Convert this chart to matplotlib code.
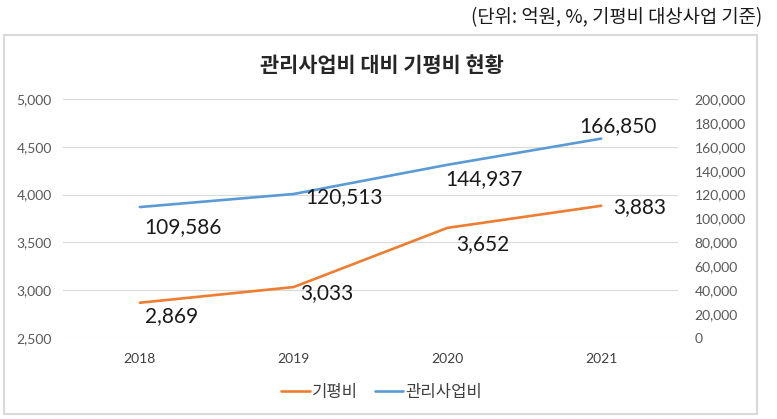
import matplotlib
matplotlib.use('Agg')
import matplotlib.pyplot as plt
from matplotlib.patches import Rectangle

plt.rcParams['font.family'] = ['Noto Sans CJK KR', 'DejaVu Sans']

years = ['2018', '2019', '2020', '2021']
gipyeong = [2869, 3033, 3652, 3883]          # 기평비 (left axis)
gwanri = [109586, 120513, 144937, 166850]    # 관리사업비 (right axis)

orange = '#ED7D31'
blue = '#5B9BD5'
grid_c = '#d9d9d9'
tick_c = '#595959'

# label offsets in pixels (dx, dy)
off_or = [(32, -13), (33, -6), (35, -16), (39, -1)]
off_bl = [(43, -20), (50, -3), (37, -14), (17, 13)]

fig = plt.figure(figsize=(7.77, 4.19), dpi=100)
ax = fig.add_axes([0.0811, 0.1933, 0.7915, 0.5704])
ax2 = ax.twinx()

x = list(range(len(years)))
l1, = ax.plot(x, gipyeong, color=orange, lw=1.9, solid_capstyle='round')
l2, = ax2.plot(x, gwanri, color=blue, lw=1.9, solid_capstyle='round')

ax.set_xlim(-0.5, len(years) - 0.5)
ax.set_ylim(2500, 5000)
ax.set_yticks(range(2500, 5001, 500))
ax2.set_ylim(0, 200000)
ax2.set_yticks(range(0, 200001, 20000))
ax.set_xticks(x)
ax.set_xticklabels(years)

ax.yaxis.grid(True, color=grid_c, lw=0.8)
ax.set_axisbelow(True)
for a in (ax, ax2):
    for s in a.spines.values():
        s.set_visible(False)

ax.yaxis.set_major_formatter(matplotlib.ticker.FuncFormatter(lambda v, p: f'{int(v):,}'))
ax2.yaxis.set_major_formatter(matplotlib.ticker.FuncFormatter(lambda v, p: f'{int(v):,}'))
ax.tick_params(axis='y', length=0, pad=8, labelsize=10, labelcolor=tick_c)
ax.tick_params(axis='x', length=0, pad=11, labelsize=10, labelcolor='#404040')
ax2.tick_params(axis='y', length=0, pad=12, labelsize=10, labelcolor=tick_c)
for lab in ax.get_yticklabels() + ax.get_xticklabels() + ax2.get_yticklabels():
    lab.set_family('Lato')

for i, v in enumerate(gipyeong):
    ax.annotate(f'{v:,}', (i, v), xytext=off_or[i], textcoords='offset pixels',
                ha='center', va='center', fontsize=15, family='Lato', color='#1a1a1a')
for i, v in enumerate(gwanri):
    ax2.annotate(f'{v:,}', (i, v), xytext=off_bl[i], textcoords='offset pixels',
                 ha='center', va='center', fontsize=15, family='Lato', color='#1a1a1a')

fig.legend([l1, l2], ['기평비', '관리사업비'], loc='center', bbox_to_anchor=(382 / 777, 1 - 392 / 419),
           ncol=2, frameon=False, fontsize=12, handlelength=1.7, handletextpad=0.15,
           columnspacing=1.0, labelcolor='#404040')

fig.text(382 / 777, 1 - 65 / 419, '관리사업비 대비 기평비 현황', ha='center', va='center',
         fontsize=15, fontweight='bold', color='#262626')
fig.text(762 / 777, 1 - 18 / 419, '(단위: 억원, %, 기평비 대상사업 기준)', ha='right', va='center',
         fontsize=13.5, color='#1a1a1a')

fig.patches.append(Rectangle((4 / 777, 1 - 414 / 419), 753 / 777, 379 / 419, transform=fig.transFigure,
                             fill=False, edgecolor=grid_c, lw=1.5))

fig.savefig('out.png', dpi=100)
